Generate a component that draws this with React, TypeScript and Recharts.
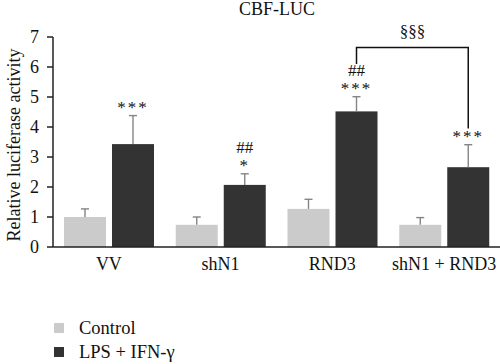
import React from 'react';
import { BarChart, Bar, XAxis, YAxis } from 'recharts';

const categories = ['VV', 'shN1', 'RND3', 'shN1 + RND3'];
const controlMeans = [1.0, 0.74, 1.27, 0.74];
const controlErr = [0.27, 0.26, 0.32, 0.24];
const lpsMeans = [3.43, 2.07, 4.52, 2.66];
const lpsErr = [0.95, 0.37, 0.49, 0.75];
const starLabels = ['***', '*', '***', '***'];
const hashLabels = ['', '##', '##', ''];
const yTicks = [0, 1, 2, 3, 4, 5, 6, 7];
const seriesNames = ['Control', 'LPS + IFN-γ'];
const seriesColors = ['#cbcbcb', '#333333'];
// bracket between RND3 and shN1 + RND3 (LPS bars): left leg end, top, right leg end
const bracketPair = [2, 3];
const bracketLevels = [6.1, 6.65, 3.95];
const bracketLabel = '§§§';

const data = categories.map((name, i) => ({
    name,
    control: controlMeans[i],
    controlErr: controlErr[i],
    lps: lpsMeans[i],
    lpsErr: lpsErr[i],
    stars: starLabels[i],
    hashes: hashLabels[i],
}));

const FONT = '"Liberation Serif", "Times New Roman", serif';
const ERR_COLOR = '#858585';

// centres of LPS bars, filled in as the bars are drawn
const lpsCenters: Record<number, number> = {};

const makeShape = (valueKey: string, errKey: string, annotate: boolean) => (props: any) => {
    const { x, y, width, height, payload, index, fill } = props;
    const value = payload[valueKey];
    const unit = height / value;
    const base = y + height;
    const py = (v: number) => base - v * unit;
    const cx = x + width / 2;
    const errTop = py(value + payload[errKey]);

    if (annotate) lpsCenters[index] = cx;

    let bracket = null;
    if (annotate && index === bracketPair[1] && lpsCenters[bracketPair[0]] !== undefined) {
        const lx = lpsCenters[bracketPair[0]];
        const topY = py(bracketLevels[1]);
        bracket = (
            <g>
                <path
                    d={`M${lx},${py(bracketLevels[0])} L${lx},${topY} L${cx},${topY} L${cx},${py(bracketLevels[2])}`}
                    stroke="#111"
                    strokeWidth={1.5}
                    fill="none"
                />
                <text x={(lx + cx) / 2} y={topY - 11} textAnchor="middle" fontFamily={FONT} fontSize={17} fill="#111">
                    {bracketLabel}
                </text>
            </g>
        );
    }

    return (
        <g>
            <rect x={x} y={y} width={width} height={height} fill={fill} />
            <line x1={cx} x2={cx} y1={y} y2={errTop} stroke={ERR_COLOR} strokeWidth={1.4} />
            <line x1={cx - 4} x2={cx + 4} y1={errTop} y2={errTop} stroke={ERR_COLOR} strokeWidth={1.4} />
            {annotate && payload.stars && (
                <text x={cx} y={errTop - 3} textAnchor="middle" fontFamily={FONT} fontSize={17} letterSpacing={2} fill="#111">
                    {payload.stars}
                </text>
            )}
            {annotate && payload.hashes && (
                <text x={cx} y={errTop - 21} textAnchor="middle" fontFamily={FONT} fontSize={17} fill="#111">
                    {payload.hashes}
                </text>
            )}
            {bracket}
        </g>
    );
};

export default function App() {
    return (
        <div style={{ position: 'absolute', left: 0, top: 0, width: 500, height: 364, background: '#fff' }}>
            <div
                style={{
                    position: 'absolute',
                    left: 0,
                    width: 554,
                    top: 0,
                    lineHeight: '18px',
                    textAlign: 'center',
                    fontFamily: FONT,
                    fontSize: 18,
                    color: '#111',
                }}
            >
                CBF-LUC
            </div>
            <BarChart
                width={500}
                height={364}
                data={data}
                margin={{ top: 37, right: 0, bottom: 87, left: 0 }}
                barSize={42}
                barGap={6}
            >
                <XAxis
                    dataKey="name"
                    interval={0}
                    tickLine={false}
                    axisLine={{ stroke: '#222', strokeWidth: 1.5 }}
                    tick={{ fontFamily: FONT, fontSize: 18, fill: '#111' }}
                    tickMargin={4}
                />
                <YAxis
                    domain={[0, 7]}
                    ticks={yTicks}
                    width={53}
                    axisLine={{ stroke: '#222', strokeWidth: 1.5 }}
                    tickLine={{ stroke: '#222', strokeWidth: 1.5 }}
                    tickSize={6}
                    tick={{ fontFamily: FONT, fontSize: 18, fill: '#111' }}
                    tickMargin={8}
                    label={({ viewBox }: any) => {
                        const cy = viewBox.y + viewBox.height / 2 + 3;
                        return (
                            <text
                                x={14}
                                y={cy}
                                transform={`rotate(-90, 14, ${cy})`}
                                textAnchor="middle"
                                dominantBaseline="central"
                                fontFamily={FONT}
                                fontSize={18}
                                fill="#111"
                            >
                                Relative luciferase activity
                            </text>
                        );
                    }}
                />
                <Bar
                    dataKey="control"
                    name={seriesNames[0]}
                    fill={seriesColors[0]}
                    isAnimationActive={false}
                    shape={makeShape('control', 'controlErr', false)}
                />
                <Bar
                    dataKey="lps"
                    name={seriesNames[1]}
                    fill={seriesColors[1]}
                    isAnimationActive={false}
                    shape={makeShape('lps', 'lpsErr', true)}
                />
            </BarChart>
            <div
                style={{
                    position: 'absolute',
                    left: 54,
                    top: 316,
                    fontFamily: FONT,
                    fontSize: 18.5,
                    color: '#111',
                }}
            >
                {seriesNames.map((name, i) => (
                    <div key={name} style={{ display: 'flex', alignItems: 'center', height: 24 }}>
                        <span
                            style={{
                                width: 10,
                                height: 10,
                                background: seriesColors[i],
                                display: 'inline-block',
                                marginRight: 15,
                            }}
                        />
                        <span>{name}</span>
                    </div>
                ))}
            </div>
        </div>
    );
}
